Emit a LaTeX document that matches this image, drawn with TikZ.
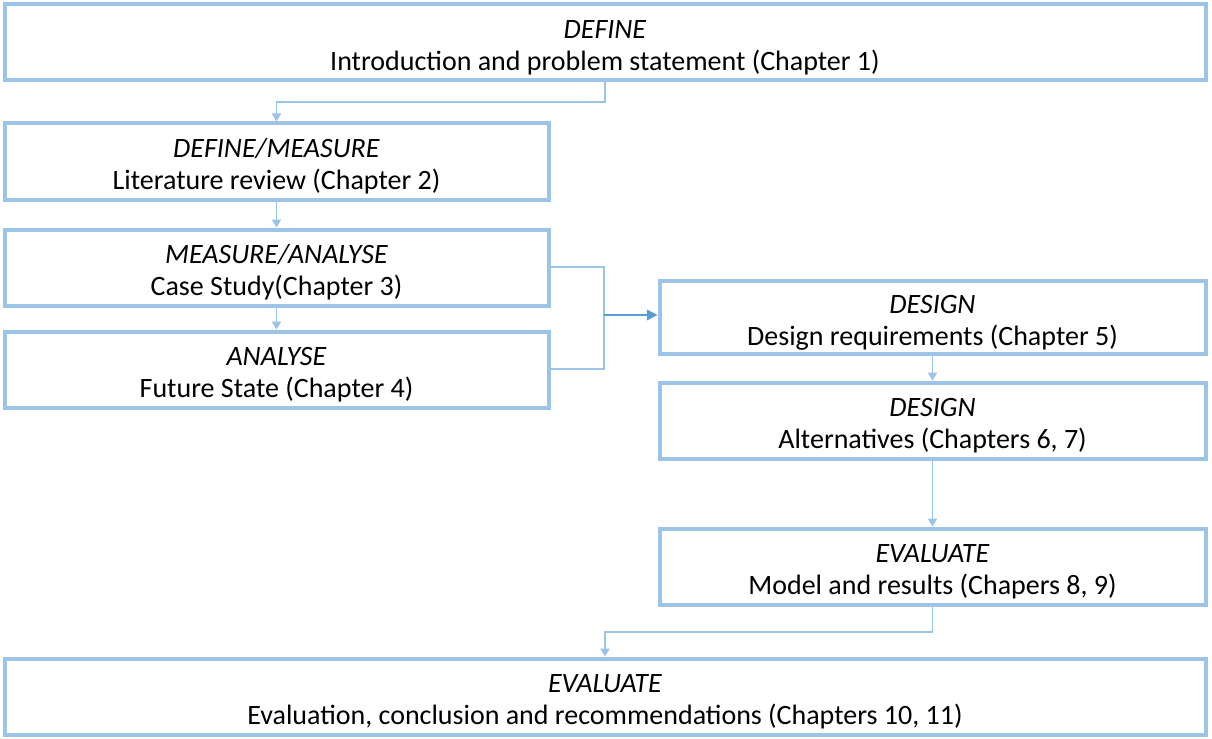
\documentclass[tikz,border=0pt]{standalone}
\usepackage{fontspec}
\setmainfont{Carlito}
\usetikzlibrary{arrows.meta}
\definecolor{boxline}{HTML}{9DC3E6}
\definecolor{linkline}{HTML}{9DC3E6}
\definecolor{linkdark}{HTML}{5B9BD5}
\tikzset{
  stage/.style={draw=boxline, line width=3pt, fill=white, inner sep=0pt,
    align=center, font=\fontsize{21}{24}\selectfont},
  link/.style={draw=linkline, line width=0.9pt, -{Triangle[width=7pt,length=6pt]}},
  plain/.style={draw=linkline, line width=0.9pt},
  mainlink/.style={draw=linkdark, line width=1.1pt, -{Triangle[width=8pt,length=8pt]}},
}
% a strut on the first line sets the text slightly below the box centre
\newcommand{\stagebox}[6]{% name, x1, y1, x2, y2, text
  \node[stage, minimum width={(#4-#2)*0.75pt}, minimum height={(#5-#3)*0.75pt}]
    (#1) at ({(#2+#4)/2},{(#3+#5)/2}) {\rule{0pt}{22pt}#6};}
\begin{document}
\begin{tikzpicture}[x=0.75pt,y=-0.75pt]
\useasboundingbox (0,0) rectangle (1212,738);
\stagebox{define}{4.5}{4.5}{1205.5}{80.5}{\textit{DEFINE}\\Introduction and problem statement (Chapter 1)}
\stagebox{lit}{4.5}{123.5}{548.5}{199.5}{\textit{DEFINE/MEASURE}\\Literature review (Chapter 2)}
\stagebox{case}{4.5}{229.5}{548.5}{305.5}{\textit{MEASURE/ANALYSE}\\Case Study(Chapter 3)}
\stagebox{future}{4.5}{331.5}{548.5}{407.5}{\textit{ANALYSE}\\Future State (Chapter 4)}
\stagebox{req}{659.5}{280.5}{1205.5}{353.5}{\textit{DESIGN}\\Design requirements (Chapter 5)}
\stagebox{alt}{659.5}{382.5}{1205.5}{458.5}{\textit{DESIGN}\\Alternatives (Chapters 6, 7)}
\stagebox{model}{659.5}{528.5}{1205.5}{604.5}{\textit{EVALUATE}\\Model and results (Chapers 8, 9)}
\stagebox{concl}{4.5}{658.5}{1205.5}{734.5}{\textit{EVALUATE}\\Evaluation, conclusion and recommendations (Chapters 10, 11)}

% connectors
\coordinate (j1) at (605,102);
\draw[link] (define.south -| j1) -- (j1) -| (lit.north);
\draw[link] (lit) -- (case);
\draw[link] (case) -- (future);
\coordinate (merge) at (604,315);
\draw[plain] (case.east |- 0,267) -| (merge) |- (future.east |- 0,369);
\draw[mainlink] (merge) -- (req.west |- merge);
\draw[link] (req) -- (alt);
\draw[link] (alt) -- (model);
\coordinate (j2) at (605,632);
\draw[link] (model.south) |- (j2) -- (concl.north -| j2);
\end{tikzpicture}
\end{document}
